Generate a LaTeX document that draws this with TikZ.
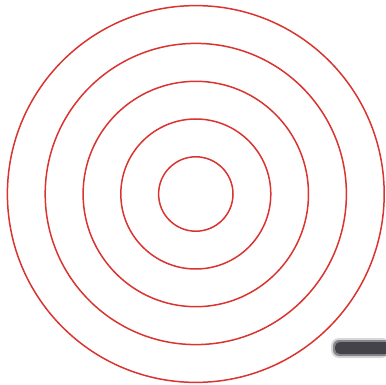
\documentclass[tikz,border=0pt]{standalone}
\usetikzlibrary{calc}
\definecolor{ringred}{RGB}{218,52,48}
\definecolor{smudge}{RGB}{55,55,62}
\tikzset{ring/.style={draw=ringred,line width=1.5pt}}
\begin{document}
\begin{tikzpicture}[x=1pt,y=-1pt]
\useasboundingbox (0,0) rectangle (386,385);
\coordinate (c) at (195.8,194.0);
\foreach \r [count=\i] in {37.2,75.0,112.7,150.6,188.4}{
  \draw[ring] (c) circle[radius=\r];
}
\fill[smudge,opacity=0.2,rounded corners=8pt] (331,338) rectangle (390,358);
\fill[smudge,opacity=0.5,rounded corners=6pt] (333,340) rectangle (390,356);
\fill[smudge,opacity=0.85,rounded corners=5pt] (335,342) rectangle (390,354);
\end{tikzpicture}
\end{document}
